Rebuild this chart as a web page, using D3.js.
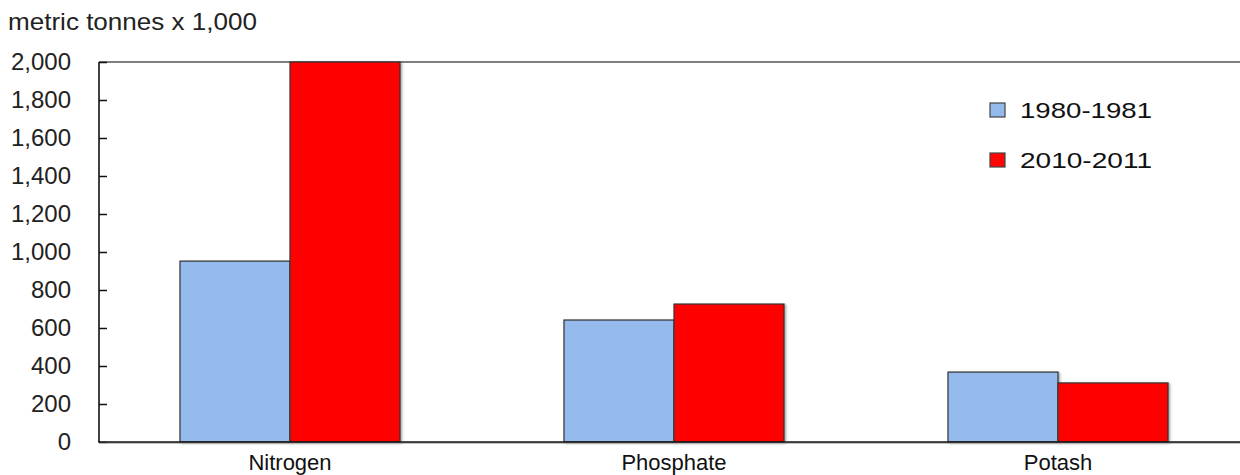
<!DOCTYPE html>
<html>
<head>
<meta charset="utf-8">
<script src="https://cdn.jsdelivr.net/npm/d3@7"></script>
<style>
  body { margin: 0; background: #fff; }
  svg { display: block; font-family: "Liberation Sans", Arial, Helvetica, sans-serif; }
</style>
</head>
<body>
<div id="chart"></div>
<script>
/* DATA */
const categories = ["Nitrogen", "Phosphate", "Potash"];
const seriesNames = ["1980-1981", "2010-2011"];
const values1980 = [952, 642, 368];
const values2010 = [2000, 726, 311];
const yTicks = [0, 200, 400, 600, 800, 1000, 1200, 1400, 1600, 1800, 2000];
const unitLabel = "metric tonnes x 1,000";

const colors = ["#94bbeb", "#ff0505"];

/* CONSTANTS */
const width = 1240,
  height = 475,
  margin = { top: 62, bottom: 33, left: 99, right: -10 };

const svg = d3.select("#chart")
  .append("svg")
  .attr("width", width)
  .attr("height", height);

// soft shadow under bars
const defs = svg.append("defs");
const shadow = defs.append("filter")
  .attr("id", "shadow")
  .attr("x", "-5%").attr("y", "-5%")
  .attr("width", "115%").attr("height", "115%");
shadow.append("feDropShadow")
  .attr("dx", 1.5).attr("dy", 1)
  .attr("stdDeviation", 0.8)
  .attr("flood-color", "#000")
  .attr("flood-opacity", 0.35);

/* SCALES */
const x0 = d3.scaleBand()
  .domain(categories)
  .range([margin.left - 1, width - margin.right])
  .paddingInner(0.427)
  .paddingOuter(0.2135);

const x1 = d3.scaleBand()
  .domain(seriesNames)
  .range([0, x0.bandwidth()]);

const y = d3.scaleLinear()
  .domain([0, 2000])
  .range([height - margin.bottom, margin.top]);

/* FRAME */
// top border
svg.append("line")
  .attr("x1", margin.left).attr("x2", width)
  .attr("y1", y(2000)).attr("y2", y(2000))
  .attr("stroke", "#555")
  .attr("stroke-width", 1.6);

/* BARS */
const rows = categories.map((c, i) => ({ cat: c, vals: [values1980[i], values2010[i]] }));

const groups = svg.append("g")
  .selectAll("g")
  .data(rows)
  .join("g")
  .attr("transform", d => `translate(${x0(d.cat)},0)`);

groups.selectAll("rect")
  .data(d => d.vals.map((v, j) => ({ key: seriesNames[j], value: v, j })))
  .join("rect")
  .attr("x", d => x1(d.key))
  .attr("y", d => y(d.value))
  .attr("width", x1.bandwidth())
  .attr("height", d => y(0) - y(d.value))
  .attr("fill", d => colors[d.j])
  .attr("stroke", "#333")
  .attr("stroke-width", 1.2)
  .attr("filter", "url(#shadow)");

/* AXES */
const yAxis = d3.axisRight(y)
  .tickValues(yTicks)
  .tickSize(8)
  .tickFormat("");

svg.append("g")
  .attr("transform", `translate(${margin.left},0)`)
  .call(yAxis)
  .call(g => g.select(".domain").remove())
  .call(g => g.selectAll(".tick line").attr("stroke", "#111").attr("stroke-width", 1.5));

// left axis line
svg.append("line")
  .attr("x1", margin.left).attr("x2", margin.left)
  .attr("y1", y(2000)).attr("y2", y(0))
  .attr("stroke", "#111")
  .attr("stroke-width", 1.6);

// tick labels
svg.append("g")
  .selectAll("text")
  .data(yTicks)
  .join("text")
  .attr("x", 71)
  .attr("y", d => y(d))
  .attr("dy", "0.35em")
  .attr("text-anchor", "end")
  .style("font-size", "24px")
  .style("fill", "#222")
  .text(d => d3.format(",")(d));

// bottom axis
svg.append("line")
  .attr("x1", margin.left).attr("x2", width)
  .attr("y1", y(0) + 1).attr("y2", y(0) + 1)
  .attr("stroke", "#aaa")
  .attr("stroke-width", 1.5);
svg.append("line")
  .attr("x1", margin.left - 0.8).attr("x2", width)
  .attr("y1", y(0)).attr("y2", y(0))
  .attr("stroke", "#111")
  .attr("stroke-width", 1.6);

// category labels
svg.append("g")
  .selectAll("text")
  .data(categories)
  .join("text")
  .attr("x", d => x0(d) + x0.bandwidth() / 2)
  .attr("y", 470)
  .attr("text-anchor", "middle")
  .style("font-size", "22px")
  .style("fill", "#111")
  .text(d => d);

// unit title
svg.append("text")
  .attr("x", 8)
  .attr("y", 30)
  .style("font-size", "24px")
  .style("fill", "#222")
  .attr("textLength", 249)
  .attr("lengthAdjust", "spacingAndGlyphs")
  .text(unitLabel);

/* LEGEND */
const legend = svg.append("g")
  .selectAll("g")
  .data(seriesNames)
  .join("g")
  .attr("transform", (d, i) => `translate(990, ${103 + i * 50})`);

legend.append("rect")
  .attr("width", 15)
  .attr("height", 14)
  .attr("fill", (d, i) => colors[i])
  .attr("stroke", "#444")
  .attr("stroke-width", 1.2);

legend.append("text")
  .attr("x", 30)
  .attr("y", 7)
  .attr("dy", "0.36em")
  .style("font-size", "22px")
  .style("fill", "#111")
  .attr("textLength", 132)
  .attr("lengthAdjust", "spacingAndGlyphs")
  .text(d => d);
</script>
</body>
</html>
